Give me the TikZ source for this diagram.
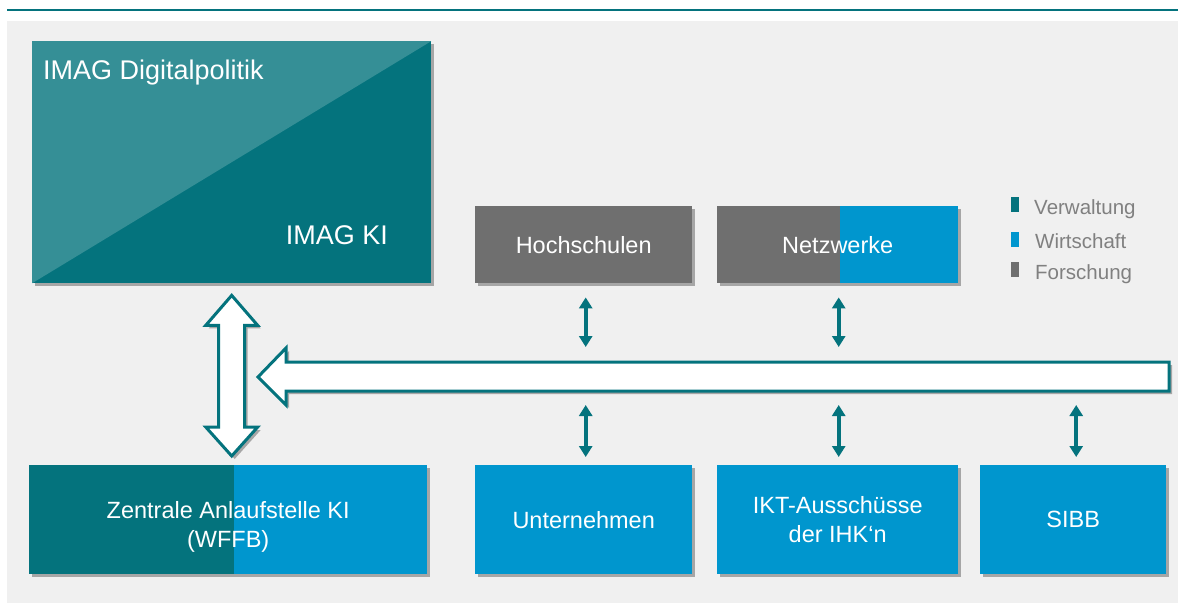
\documentclass[tikz,border=0pt]{standalone}
\usepackage{fontspec}
\setmainfont{Liberation Sans}
\usetikzlibrary{arrows.meta,shadows,calc}

\definecolor{tealdark}{HTML}{04737D}
\definecolor{teallight}{HTML}{358F96}
\definecolor{wblue}{HTML}{0096CE}
\definecolor{fgray}{HTML}{6F6F6F}
\definecolor{bggray}{HTML}{F0F0F0}
\definecolor{leggray}{HTML}{808080}

\tikzset{
  shad/.style={drop shadow={shadow xshift=3pt, shadow yshift=-3pt, fill=black!70, opacity=.45}},
  box/.style={anchor=north west, inner sep=0pt, text=white, align=center,
    font=\fontsize{23.5}{29}\selectfont, shad},
  toprow/.style={box, minimum height=77pt},
  botrow/.style={box, minimum height=109pt},
  leftpart/.style 2 args={path picture={\fill[#1] (path picture bounding box.north west) rectangle
    ($(path picture bounding box.south west)!#2!(path picture bounding box.south east)$);}},
  imagtext/.style={inner sep=0pt, text=white, font=\fontsize{27}{32}\selectfont},
  legsq/.style={minimum width=8pt, minimum height=15pt, inner sep=0pt},
  legtxt/.style={anchor=base west, inner sep=0pt, text=leggray, font=\fontsize{20.5}{24}\selectfont},
  tw/.style={tealdark, line width=4pt, {Triangle[width=13pt,length=11pt]}-{Triangle[width=13pt,length=11pt]}},
  bigarrow/.style={draw=tealdark, line width=3pt, fill=white, line join=miter, shad},
}

\begin{document}
\begin{tikzpicture}[x=1pt, y=-1pt]
  \useasboundingbox (0,0) rectangle (1178,607);
  % frame
  \draw[tealdark, line width=2.5pt] (7,10) -- (1178,10);
  \fill[bggray] (7,21) rectangle (1178,603);

  % IMAG
  \node[anchor=north west, inner sep=0pt, fill=tealdark, minimum width=399pt, minimum height=242pt, shad,
    path picture={\fill[teallight] (path picture bounding box.south west) -- (path picture bounding box.north west)
      -- (path picture bounding box.north east) -- cycle;}] (imag) at (32,41) {};
  \node[imagtext, anchor=base west] (imagdp) at (43,80) {IMAG Digitalpolitik};
  \node[imagtext, anchor=base east] (imagki) at (388,244) {IMAG KI};

  % boxes
  \node[toprow, fill=fgray, minimum width=217pt] (hoch) at (475,206) {Hochschulen};
  \node[toprow, fill=wblue, minimum width=241pt, leftpart={fgray}{.51}] (netz) at (717,206) {Netzwerke};
  \node[botrow, fill=wblue, minimum width=398pt, leftpart={tealdark}{.515}, text height=55pt, text depth=0pt] (zentrale) at (29,465) {Zentrale Anlaufstelle KI\\(WFFB)};
  \node[botrow, fill=wblue, minimum width=217pt] (unt) at (475,465) {Unternehmen};
  \node[botrow, fill=wblue, minimum width=241pt] (ikt) at (717,465) {IKT-Ausschüsse\\der IHK‘n};
  \node[botrow, fill=wblue, minimum width=186pt] (sibb) at (980,465) {SIBB};

  % legend
  \node[legsq, fill=tealdark] (sqv) at (1015,204.5) {};
  \node[legtxt] (txv) at (1034,214) {Verwaltung};
  \node[legsq, fill=wblue] (sqw) at (1015,239) {};
  \node[legtxt] (txw) at (1035,248) {Wirtschaft};
  \node[legsq, fill=fgray] (sqf) at (1015,269.5) {};
  \node[legtxt] (txf) at (1035,279) {Forschung};

  % big arrows
  \coordinate (vtop) at ([yshift=-12pt]imag.south);
  \coordinate (vbot) at ([yshift=9pt]zentrale.north -| vtop);
  \draw[bigarrow] (vtop) -- ++(26,30) -- ++(-13,0) -- ($(vbot)+(13,-29)$) -- ++(13,0) -- (vbot)
    -- ++(-26,-29) -- ++(13,0) -- ($(vtop)+(-13,30)$) -- ++(-13,0) -- cycle;
  \coordinate (htip) at (258,377);
  \coordinate (hend) at (1169,377);
  \draw[bigarrow] (htip) -- ++(28,-29) -- ++(0,14) -- ($(hend)+(0,-15)$) -- ($(hend)+(0,14)$)
    -- ($(htip)+(28,14)$) -- ++(0,14) -- cycle;
  \coordinate (bartop) at ($(hend)+(0,-15)$);
  \coordinate (barbot) at ($(hend)+(0,14)$);

  % small arrows
  \draw[tw] ([xshift=2pt,yshift=-14pt]hoch.south) -- ([xshift=2pt,yshift=15pt]hoch.south |- bartop);
  \draw[tw] ([xshift=1pt,yshift=-14pt]netz.south) -- ([xshift=1pt,yshift=15pt]netz.south |- bartop);
  \draw[tw] ([xshift=2pt,yshift=-14pt]unt.north |- barbot) -- ([xshift=2pt,yshift=8pt]unt.north);
  \draw[tw] ([xshift=1pt,yshift=-14pt]ikt.north |- barbot) -- ([xshift=1pt,yshift=8pt]ikt.north);
  \draw[tw] ([xshift=3pt,yshift=-14pt]sibb.north |- barbot) -- ([xshift=3pt,yshift=8pt]sibb.north);
\end{tikzpicture}
\end{document}
